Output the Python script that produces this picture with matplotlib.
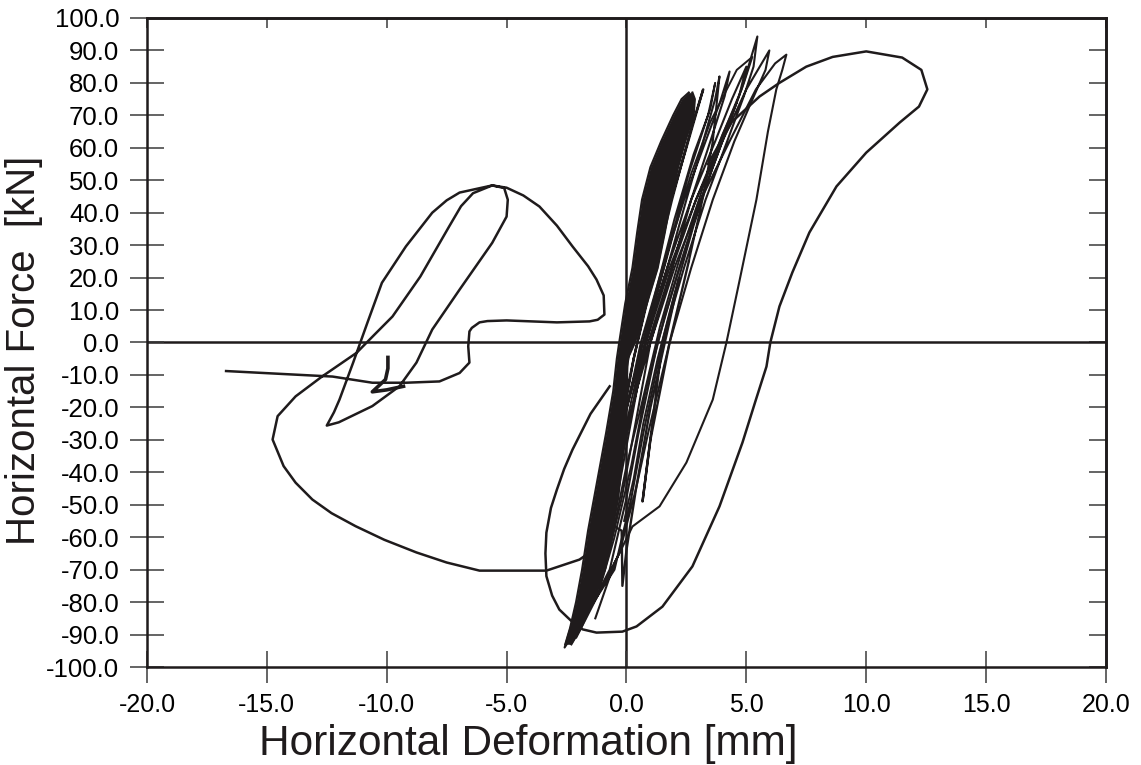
import numpy as np
import matplotlib
matplotlib.use('Agg')
import matplotlib.pyplot as plt

plt.rcParams['font.family'] = ['Liberation Sans', 'DejaVu Sans']

ink = '#1f1b1c'

x_ticks = [-20.0, -15.0, -10.0, -5.0, 0.0, 5.0, 10.0, 15.0, 20.0]
y_ticks = [-100.0, -90.0, -80.0, -70.0, -60.0, -50.0, -40.0, -30.0, -20.0, -10.0,
           0.0, 10.0, 20.0, 30.0, 40.0, 50.0, 60.0, 70.0, 80.0, 90.0, 100.0]

# solid black band made by the many small cycles (edges)
core_y = [-93, -88, -80, -70, -58, -48, -38, -28, -15, -5, 0, 12, 23, 34, 44, 54, 62, 70, 75, 77]
core_left = [-2.55, -2.35, -2.1, -1.85, -1.6, -1.35, -1.1, -0.85, -0.55, -0.4, -0.3, -0.05, 0.25, 0.45, 0.65, 1.0, 1.45, 1.95, 2.3, 2.6]
core_right = [-2.3, -1.9, -1.4, -0.9, -0.6, -0.35, -0.2, -0.05, 0.0, 0.05, 0.35, 0.85, 1.3, 1.6, 1.85, 2.15, 2.45, 2.8, 2.85, 2.75]

# small cycles inside / along the band
cycles_small = [
    (0.0, 0.0), (0.5, 22), (0.83, 47), (0.6, 30), (0.1, 5), (-0.4, -20), (-0.9, -45), (-1.2, -58),
    (-0.7, -40), (-0.2, -15), (0.4, 10), (0.9, 30), (1.5, 62), (1.3, 48), (0.7, 25), (0.1, 2),
    (-0.5, -25), (-1.1, -50), (-1.6, -70), (-1.0, -48), (-0.5, -25), (0.3, 5), (1.2, 35), (2.0, 58),
    (2.75, 75), (2.3, 64), (1.6, 45), (0.9, 22), (0.2, 0), (-0.5, -28), (-1.1, -52), (-1.9, -80),
    (-1.3, -62), (-0.4, -30), (0.3, -5), (1.0, 18), (1.7, 40), (2.5, 60), (3.2, 78), (2.7, 66),
    (1.9, 44), (1.1, 20), (0.3, -5), (-0.3, -30), (-0.9, -55), (-0.2, -58), (-0.17, -75), (0.0, -64),
    (0.4, -45), (1.0, -20), (1.6, 0), (2.2, 20), (1.5, 0), (0.67, -49), (1.0, -30), (1.8, 0), (2.6, 25),
]

# cycles between the band and the largest peaks
cycles_mid = [
    (-2.2, -90), (-1.5, -72), (-0.9, -50), (-0.3, -30), (0.5, -5), (1.2, 15), (2.0, 38), (2.8, 58),
    (3.5, 72), (3.7, 80), (3.4, 70), (2.6, 52), (1.8, 30), (1.0, 8), (0.3, -18), (-0.3, -40),
    (-1.0, -62), (-1.6, -80), (-1.0, -62), (-0.4, -40), (0.2, -18), (1.1, 10), (1.9, 32), (2.7, 52),
    (3.5, 68), (4.6, 84), (5.25, 88), (4.9, 80), (4.2, 66), (3.4, 50), (2.5, 30), (1.6, 8), (0.8, -15),
    (0.2, -38), (-0.5, -60), (-1.2, -78), (-0.6, -60), (0.0, -38), (0.6, -20), (1.4, 5), (2.3, 28),
    (3.2, 48), (4.0, 64), (4.6, 74), (4.3, 68), (3.6, 54), (2.8, 36), (2.0, 15), (1.3, -5), (0.7, -25),
    (0.3, -42), (-0.1, -55),
]

# larger cycles, peaks at the top right
cycles_large = [
    (2.6, 25), (3.2, 45), (3.6, 62), (3.88, 82), (3.7, 75), (3.2, 62), (2.5, 44), (1.7, 23), (0.8, 0),
    (0.1, -28), (-0.4, -48), (-1.0, -70), (-1.9, -86), (-1.3, -70), (-0.7, -48), (-0.2, -28), (0.6, 0),
    (1.5, 23), (2.4, 44), (3.3, 62), (3.9, 74), (4.3, 83.5), (4.1, 76), (3.5, 62), (2.7, 44), (1.9, 23),
    (1.0, 0), (0.3, -28), (-0.2, -48), (-0.9, -70), (-2.4, -92), (-1.6, -72), (-1.0, -48), (-0.3, -28),
    (0.7, 0), (1.7, 23), (2.7, 44), (3.7, 62), (4.4, 75), (5.0, 85), (4.7, 76), (4.0, 62), (3.1, 44),
    (2.2, 23), (1.3, 0), (0.5, -28), (0.0, -48), (-0.7, -70), (-1.8, -86), (-1.2, -70), (-0.6, -48),
    (0.0, -28), (0.9, 0), (1.9, 23), (2.9, 44), (3.9, 62), (4.8, 78), (5.46, 94.3), (5.3, 85), (4.9, 76),
    (4.2, 62), (3.3, 44), (2.4, 23), (1.5, 0), (0.7, -28), (0.2, -48), (-0.5, -70), (-2.58, -94),
    (-1.8, -75), (-1.2, -55), (-0.3, -28), (0.8, 0), (1.8, 23), (2.9, 44), (4.0, 62), (5.0, 78),
    (5.96, 90), (5.8, 84), (5.2, 74), (4.5, 62), (3.6, 44), (2.7, 23), (1.8, 0), (0.9, -28), (0.4, -45),
    (-0.3, -65), (-2.1, -91), (-1.3, -72), (-0.8, -50), (-0.1, -28), (1.0, 0), (2.0, 23), (3.1, 44),
    (4.3, 62), (5.4, 78), (6.2, 86), (6.67, 88.7), (6.5, 84), (6.25, 78), (5.9, 65), (5.42, 44),
    (4.7, 18.5), (4.17, 0), (3.6, -17.6), (2.5, -37), (1.38, -50.5), (0.25, -56.7), (-0.5, -68), (-1.3, -85),
]

# big excursion to the right and back through the bottom
outer_loop = [
    (3.4, 55), (4.4, 68), (5.55, 75.8), (6.38, 80), (7.5, 85), (8.6, 88), (10.0, 89.7), (11.5, 87.8),
    (12.3, 84), (12.55, 78), (12.2, 72.7), (11.4, 67.8), (10.0, 58.5), (8.76, 48.1), (7.63, 33.9),
    (6.92, 21.6), (6.38, 11.1), (6.0, 0), (5.84, -7.4), (5.4, -17.6), (4.84, -30.8), (3.88, -50.5),
    (2.75, -69), (1.5, -81.4), (0.42, -87.5), (-0.17, -89.1), (-1.25, -89.4), (-1.83, -88.4),
    (-2.2, -86.5), (-2.46, -84.7), (-2.8, -82.3), (-3.1, -78), (-3.34, -72), (-3.38, -65), (-3.34, -58.6),
    (-3.15, -51), (-2.9, -45.3), (-2.6, -39), (-2.25, -33), (-1.5, -22), (-0.7, -13.5),
]

# loops on the negative side, ending with the tail at the left
left_loops = [
    (-1.0, -62), (-1.96, -66.9), (-3.34, -70.3), (-6.13, -70.3), (-7.5, -67.8), (-8.76, -64.7),
    (-10.1, -60.8), (-11.3, -56.6), (-12.3, -52.6), (-13.1, -48.4), (-13.8, -43.2), (-14.3, -38.1),
    (-14.76, -29.9), (-14.55, -22.7), (-13.8, -16.6), (-12.7, -10.5), (-11.26, -3.2), (-10.5, 2.5),
    (-9.76, 8), (-8.6, 20.3), (-7.4, 35.7), (-6.9, 42), (-6.4, 46), (-5.6, 48.4), (-5.1, 47.6),
    (-4.95, 44), (-5.0, 38.8), (-5.6, 30.7), (-6.96, 16.3), (-8.1, 4), (-8.76, -6.2), (-9.47, -13.5),
    (-10.6, -19.6), (-12.0, -24.6), (-12.5, -25.6), (-12.2, -21.5), (-11.97, -17.6), (-11.4, -6.2),
    (-10.8, 6.2), (-10.2, 18.4), (-9.2, 29.6), (-8.1, 40), (-7.5, 43.8), (-6.96, 46.2), (-5.6, 48.4),
    (-5.0, 47.7), (-4.3, 45.3), (-3.63, 41.9), (-2.9, 36), (-2.25, 29.6), (-1.6, 23.5), (-1.25, 19.4),
    (-0.95, 14.5), (-0.92, 8.6), (-1.2, 7.0), (-1.54, 6.5), (-2.9, 6.2), (-5.0, 6.8), (-5.8, 6.6),
    (-6.13, 6.2), (-6.45, 4.5), (-6.55, 3.4), (-6.6, -1.2), (-6.55, -6.2), (-6.96, -9.4), (-7.8, -12),
    (-9.2, -12.4), (-10.6, -12.4), (-12.26, -10.5), (-16.7, -8.8),
]

hook = [(-9.95, -4.6), (-9.95, -8), (-10.05, -11.4), (-10.6, -15.2), (-10.0, -14.6), (-9.3, -13.5)]

fig = plt.figure(figsize=(11.41, 7.65), dpi=100)
ax = fig.add_axes([0.1288, 0.1281, 0.8405, 0.8484])

ax.axhline(0, color=ink, lw=1.8, zorder=1)
ax.axvline(0, color=ink, lw=1.8, zorder=1)

ax.fill_betweenx(core_y, core_left, core_right, color=ink, lw=0, zorder=2)
ax.plot(core_left, core_y, color=ink, lw=1.6, zorder=2)
ax.plot(core_right, core_y, color=ink, lw=1.6, zorder=2)

for path, w in [(cycles_small, 1.7), (cycles_mid, 1.4), (cycles_large, 1.5), (outer_loop, 1.8),
                (left_loops, 1.8), (hook, 2.6)]:
    xy = np.array(path)
    ax.plot(xy[:, 0], xy[:, 1], color=ink, lw=w, solid_joinstyle='round', zorder=3)

ax.set_xlim(-20, 20)
ax.set_ylim(-100, 100)
ax.set_xticks(x_ticks)
ax.set_xticklabels([f'{v:.1f}' for v in x_ticks])
ax.set_yticks(y_ticks)
ax.set_yticklabels([f'{v:.1f}' for v in y_ticks])
ax.tick_params(axis='x', direction='inout', length=23, width=1.1, pad=7, labelsize=18, color='#3a3a3a')
ax.tick_params(axis='y', direction='inout', length=24, width=1.1, pad=8, labelsize=18.5, color='#3a3a3a')
for s in ax.spines.values():
    s.set_linewidth(1.8)
    s.set_color(ink)

top = ax.secondary_xaxis('top')
top.set_xticks(x_ticks)
top.set_xticklabels([])
top.tick_params(direction='in', length=7, width=1.1, color='#3a3a3a')
top.spines['top'].set_linewidth(1.8)

right = ax.secondary_yaxis('right')
right.set_yticks(y_ticks)
right.set_yticklabels([])
right.tick_params(direction='in', length=12, width=1.1, color='#3a3a3a')
right.spines['right'].set_linewidth(1.8)

fig.text(0.4632, 0.013, 'Horizontal Deformation [mm]', ha='center', va='baseline', fontsize=30.5, color=ink)
fig.text(0.021, 0.5425, 'Horizontal Force  [kN]', rotation=90, ha='center', va='center', fontsize=29, color=ink)

fig.savefig('out.png', dpi=100)
